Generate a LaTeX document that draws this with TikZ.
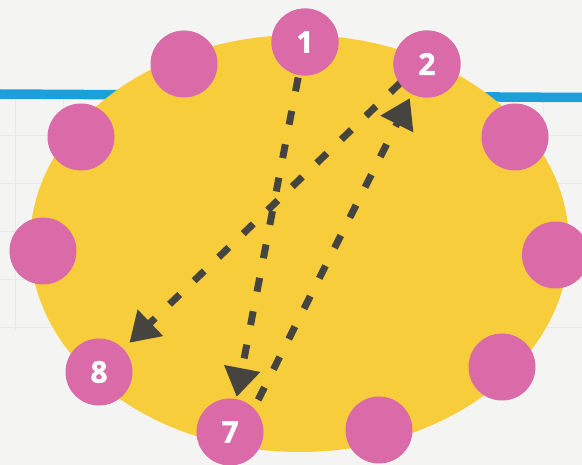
\documentclass[tikz,border=0pt]{standalone}
\usepackage{fontspec}
\setmainfont{Open Sans}
\newfontfamily\numfont{Open Sans}[BoldFont={Open Sans Bold}, BoldFeatures={FakeBold=1.5}]
\usetikzlibrary{arrows.meta,calc}
\definecolor{bgc}{HTML}{F4F4F3}
\definecolor{gridc}{HTML}{E7EAED}
\definecolor{bluec}{HTML}{1CA0DC}
\definecolor{yellowc}{HTML}{F8CD3C}
\definecolor{pinkc}{HTML}{DA6AA8}
\definecolor{arrowc}{HTML}{46443E}
\tikzset{
  dot/.style={circle, fill=pinkc, minimum size=67pt, inner sep=0pt,
    text=white, font=\numfont\bfseries\fontsize{30}{30}\selectfont},
  arr/.style={draw=arrowc, line width=7pt, dash pattern=on 14pt off 20pt,
    -{Triangle[length=29pt,width=35pt]}},
}
\begin{document}
\begin{tikzpicture}[x=1pt,y=-1pt]
\fill[bgc] (0,0) rectangle (582,465);
\useasboundingbox (0,0) rectangle (582,465);
% faint grid
\foreach \x in {15,63,111,159,207,255,303,351,399,447,495,543}
  \draw[gridc, line width=0.8pt] (\x,100) -- (\x,330);
\foreach \y in {135,183,231,279,327}
  \draw[gridc, line width=0.8pt] (0,\y) -- (582,\y);
% blue line
\draw[bluec, line width=9.5pt] (0,94) -- (582,97.5);
% yellow ellipse
\fill[yellowc] (299.5,243.5) ellipse [x radius=269.5, y radius=208.5];
% circles
\node[dot] (c1) at (305,42) {1};
\node[dot] (c2) at (427,64) {2};
\node[dot] (r1) at (515,137) {};
\node[dot] (r2) at (555.5,255) {};
\node[dot] (r3) at (502,367) {};
\node[dot] (b1) at (379,430) {};
\node[dot] (c7) at (230,432) {7};
\node[dot] (c8) at (99,372) {8};
\node[dot] (l1) at (43,251) {};
\node[dot] (l2) at (81,137) {};
\node[dot] (t1) at (184,64) {};
% arrows
\draw[arr, shorten <=2.5pt, shorten >=2pt] (c1) -- (c7);
\draw[arr, shorten <=36pt, shorten >=4.5pt] ($(c7.center)+(12,0)$) -- (c2);
\draw[arr, shorten <=27pt, shorten >=8.5pt] ($(c2.center)+(-7,0)$) -- (c8);
% circles 1 and 2 over the arrow starts
\node[dot] at (c1.center) {1};
\node[dot] at (c2.center) {2};
\end{tikzpicture}
\end{document}
